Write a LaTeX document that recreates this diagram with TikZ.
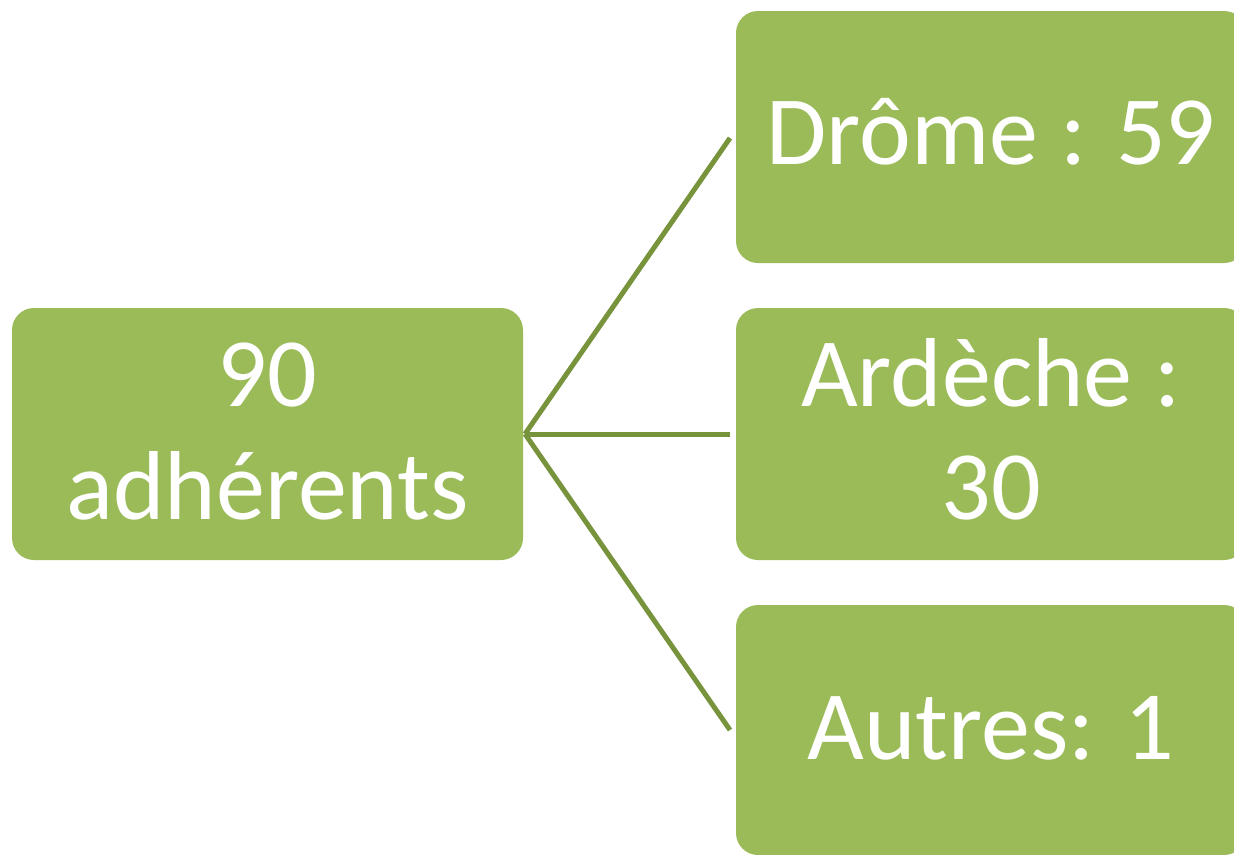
\documentclass[tikz,border=0pt]{standalone}
\usepackage{fontspec}
\setmainfont{Carlito}
\definecolor{boxgreen}{HTML}{9BBB59}
\definecolor{linegreen}{HTML}{77933C}
\begin{document}
\begin{tikzpicture}[x=1pt,y=-1pt,
  gbox/.style={fill=boxgreen, rounded corners=22pt},
  lbl/.style={text=white, align=center, anchor=base, inner sep=0pt, font=\fontsize{98}{113}\selectfont},
  conn/.style={draw=linegreen, line width=5pt}]
\useasboundingbox (0,0) rectangle (1234,854);
\clip (0,0) rectangle (1234,854);
\fill[gbox] (12,308) rectangle (523,560);
\fill[gbox] (736,11) rectangle (1246,263);
\fill[gbox] (736,308) rectangle (1246,560);
\fill[gbox] (736,605) rectangle (1246,855);
\node[lbl] (root) at (267.5,519) {90\\adhérents};
\node[lbl] (drome) at (991,164) {Drôme : 59};
\node[lbl] (ardeche) at (991,519) {Ardèche :\\30};
\node[lbl] (autres) at (991,759) {Autres: 1};
\coordinate (s) at (525,434);
\coordinate (e1) at (730,138);
\coordinate (e2) at (730,434);
\coordinate (e3) at (730,730);
\draw[conn] (s) -- (e1);
\draw[conn] (s) -- (e2);
\draw[conn] (s) -- (e3);
\end{tikzpicture}
\end{document}
